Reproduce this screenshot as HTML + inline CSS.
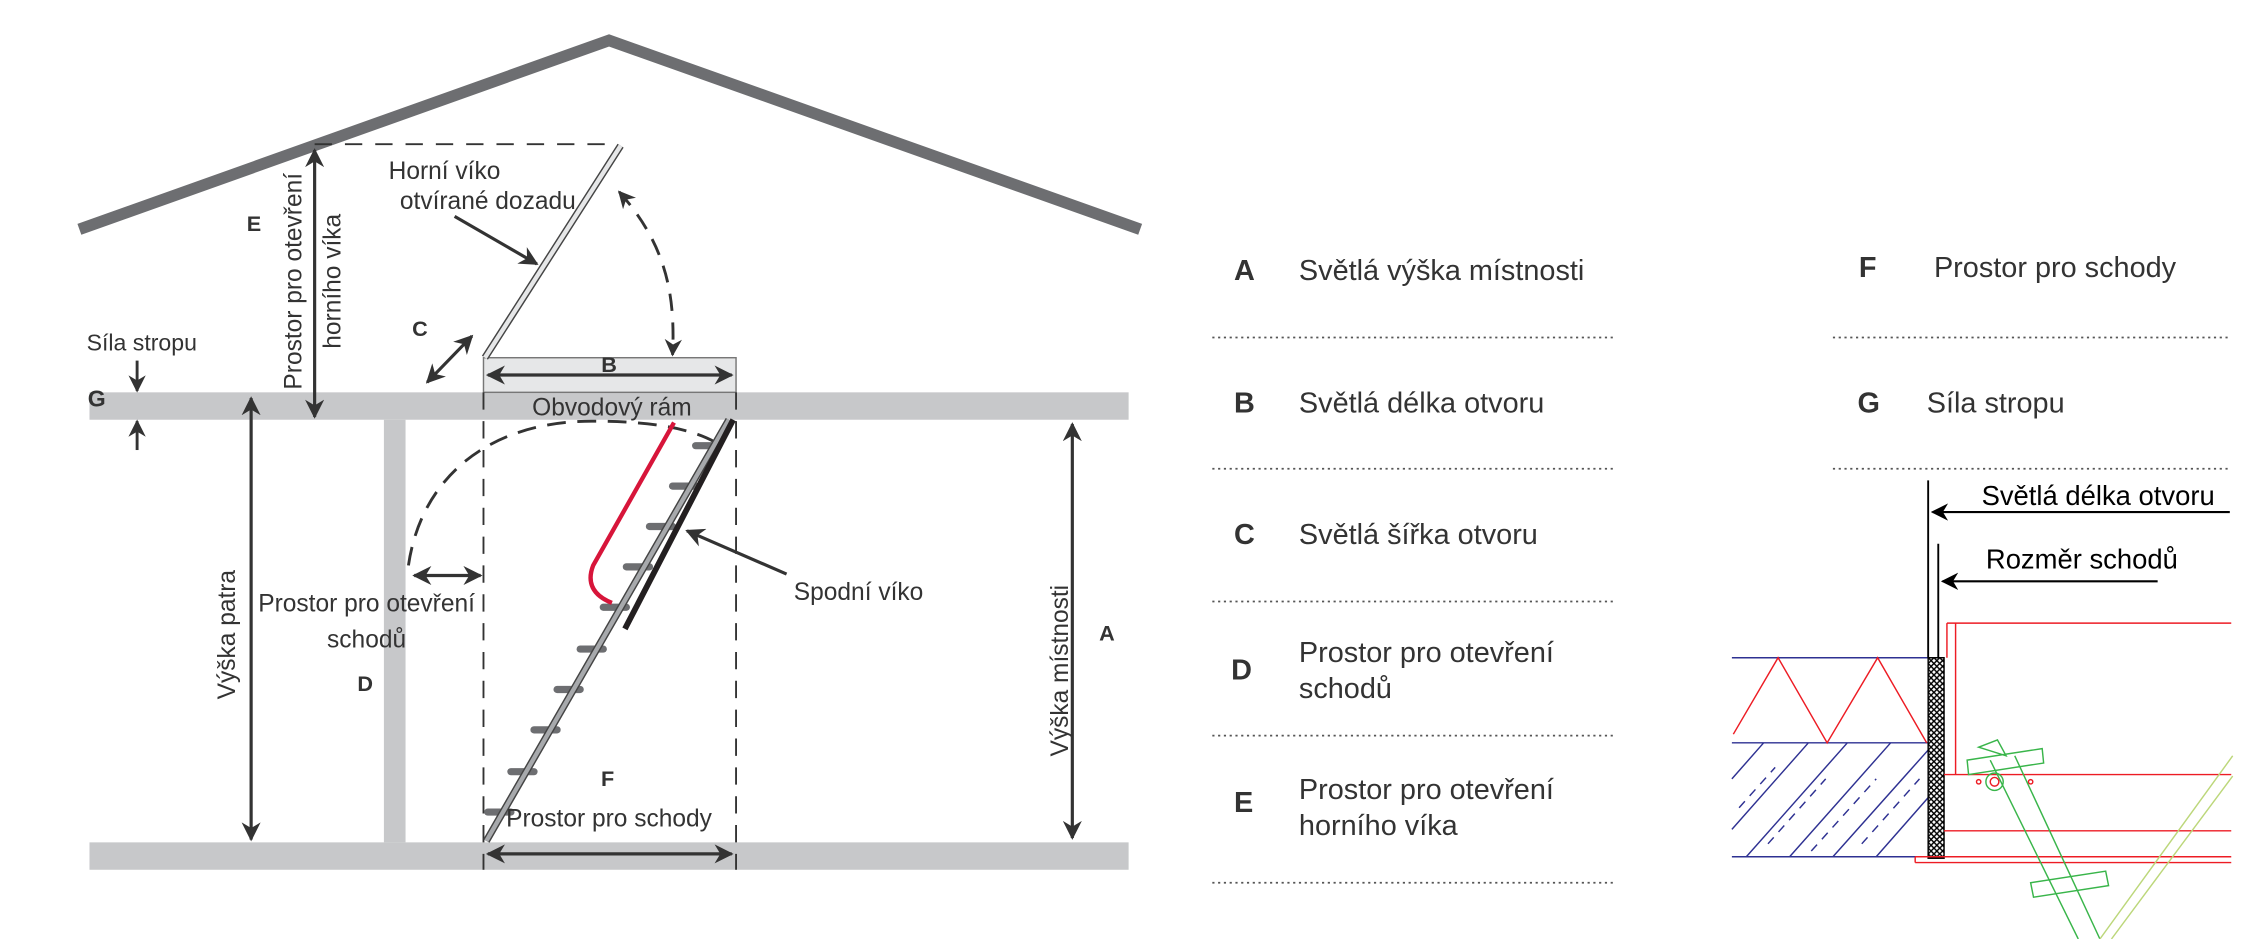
<!DOCTYPE html>
<html><head><meta charset="utf-8"><style>
html,body{margin:0;padding:0;background:#fff;}
svg{display:block;}
text{font-family:"Liberation Sans",sans-serif;fill:#333;}
.b{font-weight:bold;}
</style></head><body>
<svg width="2263" height="939" viewBox="0 0 1568 651" preserveAspectRatio="none" xmlns="http://www.w3.org/2000/svg">
<defs>
<marker id="ah" viewBox="0 0 10 10" refX="9" refY="5" markerWidth="6" markerHeight="6" orient="auto-start-reverse" markerUnits="strokeWidth">
<path d="M0,0 L10,5 L0,10 L3,5 z" fill="#333"/></marker>
<marker id="ak" viewBox="0 0 10 10" refX="9" refY="5" markerWidth="8" markerHeight="8" orient="auto-start-reverse" markerUnits="strokeWidth">
<path d="M0,0 L10,5 L0,10 L3,5 z" fill="#000"/></marker>
<pattern id="hx" width="4" height="4" patternUnits="userSpaceOnUse">
<rect width="4" height="4" fill="#fff"/><path d="M0,0 L4,4 M4,0 L0,4" stroke="#000" stroke-width="1"/></pattern>
</defs>
<polyline points="55,159 422,28 790,159" fill="none" stroke="#6d6e71" stroke-width="8"/>
<line x1="218" y1="100" x2="428" y2="100" stroke="#333" stroke-width="1.3" stroke-dasharray="12,9"/>
<rect x="62" y="272" width="720" height="19" fill="#c7c8ca"/>
<rect x="62" y="584" width="720" height="19" fill="#c7c8ca"/>
<rect x="266" y="291" width="15" height="293" fill="#c7c8ca"/>
<rect x="335" y="248" width="175" height="24" fill="#e6e7e8" stroke="#777" stroke-width="1"/>
<line x1="335" y1="272" x2="335" y2="603" stroke="#333" stroke-width="1.3" stroke-dasharray="12,8"/>
<line x1="510" y1="272" x2="510" y2="603" stroke="#333" stroke-width="1.3" stroke-dasharray="12,8"/>
<line x1="336" y1="248" x2="430" y2="101" stroke="#444" stroke-width="5"/>
<line x1="336" y1="248" x2="430" y2="101" stroke="#e6e7e8" stroke-width="3"/>
<line x1="338" y1="260" x2="507" y2="260" stroke="#333" stroke-width="2.2" marker-start="url(#ah)" marker-end="url(#ah)"/>
<line x1="338" y1="592" x2="507" y2="592" stroke="#333" stroke-width="2.2" marker-start="url(#ah)" marker-end="url(#ah)"/>
<line x1="296" y1="265" x2="327" y2="233" stroke="#333" stroke-width="2.2" marker-start="url(#ah)" marker-end="url(#ah)"/>
<path d="M429,133 C462,170 468,205 466,246" fill="none" stroke="#333" stroke-width="2" stroke-dasharray="12,8" marker-start="url(#ah)" marker-end="url(#ah)"/>
<line x1="315" y1="150" x2="372" y2="183" stroke="#333" stroke-width="2.2" marker-end="url(#ah)"/>
<line x1="218" y1="104" x2="218" y2="289" stroke="#333" stroke-width="2.2" marker-start="url(#ah)" marker-end="url(#ah)"/>
<line x1="95" y1="250" x2="95" y2="271" stroke="#333" stroke-width="2" marker-end="url(#ah)"/>
<line x1="95" y1="312" x2="95" y2="292" stroke="#333" stroke-width="2" marker-end="url(#ah)"/>
<line x1="174" y1="276" x2="174" y2="582" stroke="#333" stroke-width="2.2" marker-start="url(#ah)" marker-end="url(#ah)"/>
<line x1="743" y1="294" x2="743" y2="581" stroke="#333" stroke-width="2.2" marker-start="url(#ah)" marker-end="url(#ah)"/>
<line x1="287" y1="399" x2="333" y2="399" stroke="#333" stroke-width="2.2" marker-start="url(#ah)" marker-end="url(#ah)"/>
<path d="M283,392 C292,330 340,292 410,292 C452,292 480,297 498,308" fill="none" stroke="#333" stroke-width="2" stroke-dasharray="13,8"/>
<line x1="545" y1="398" x2="476" y2="368" stroke="#333" stroke-width="2.2" marker-end="url(#ah)"/>
<g stroke="#6d6e71" stroke-width="5" stroke-linecap="round">
<line x1="482" y1="309" x2="498" y2="309"/><line x1="466" y1="337" x2="482" y2="337"/>
<line x1="450" y1="365" x2="466" y2="365"/><line x1="434" y1="393" x2="450" y2="393"/>
<line x1="418" y1="421" x2="434" y2="421"/><line x1="402" y1="450" x2="418" y2="450"/>
<line x1="386" y1="478" x2="402" y2="478"/><line x1="370" y1="506" x2="386" y2="506"/>
<line x1="354" y1="535" x2="370" y2="535"/><line x1="338" y1="563" x2="354" y2="563"/>
</g>
<line x1="337" y1="583" x2="505" y2="291" stroke="#444" stroke-width="5"/>
<line x1="337" y1="583" x2="505" y2="291" stroke="#a7a9ac" stroke-width="3"/>
<line x1="508" y1="291" x2="433" y2="436" stroke="#231f20" stroke-width="4"/>
<path d="M467,293 L411,392 Q404,410 424,418" fill="none" stroke="#d7153a" stroke-width="3"/>
<text class="b" x="422" y="258" font-size="15" text-anchor="middle">B</text>
<text x="424" y="288" font-size="17" text-anchor="middle">Obvodový rám</text>
<text x="308" y="124" font-size="17" text-anchor="middle">Horní víko</text>
<text x="338" y="145" font-size="17" text-anchor="middle">otvírané dozadu</text>
<text class="b" x="291" y="233" font-size="15" text-anchor="middle">C</text>
<text class="b" x="176" y="160" font-size="15" text-anchor="middle">E</text>
<text x="0" y="0" font-size="17" text-anchor="middle" transform="translate(209,195) rotate(-90)">Prostor pro otevření</text>
<text x="0" y="0" font-size="17" text-anchor="middle" transform="translate(236,195) rotate(-90)">horního víka</text>
<text x="60" y="243" font-size="16">Síla stropu</text>
<text class="b" x="67" y="282" font-size="16" text-anchor="middle">G</text>
<text x="0" y="0" font-size="17" text-anchor="middle" transform="translate(163,440) rotate(-90)">Výška patra</text>
<text x="0" y="0" font-size="17" text-anchor="middle" transform="translate(740,465) rotate(-90)">Výška místnosti</text>
<text class="b" x="767" y="444" font-size="15" text-anchor="middle">A</text>
<text x="254" y="424" font-size="17" text-anchor="middle">Prostor pro otevření</text>
<text x="254" y="449" font-size="17" text-anchor="middle">schodů</text>
<text class="b" x="253" y="479" font-size="15" text-anchor="middle">D</text>
<text x="550" y="416" font-size="17">Spodní víko</text>
<text class="b" x="421" y="545" font-size="15" text-anchor="middle">F</text>
<text x="422" y="573" font-size="17" text-anchor="middle">Prostor pro schody</text>
<g font-size="20">
<text class="b" x="855" y="194">A</text><text x="900" y="194">Světlá výška místnosti</text>
<text class="b" x="855" y="286">B</text><text x="900" y="286">Světlá délka otvoru</text>
<text class="b" x="855" y="377">C</text><text x="900" y="377">Světlá šířka otvoru</text>
<text class="b" x="853" y="471">D</text><text x="900" y="459">Prostor pro otevření</text><text x="900" y="484">schodů</text>
<text class="b" x="855" y="563">E</text><text x="900" y="554">Prostor pro otevření</text><text x="900" y="579">horního víka</text>
<text class="b" x="1288" y="192">F</text><text x="1340" y="192">Prostor pro schody</text>
<text class="b" x="1287" y="286">G</text><text x="1335" y="286">Síla stropu</text>
</g>
<g stroke="#555" stroke-width="1.2" stroke-dasharray="1.5,2.5">
<line x1="840" y1="234" x2="1120" y2="234"/><line x1="840" y1="325" x2="1120" y2="325"/>
<line x1="840" y1="417" x2="1120" y2="417"/><line x1="840" y1="510" x2="1120" y2="510"/>
<line x1="840" y1="612" x2="1120" y2="612"/>
<line x1="1270" y1="234" x2="1545" y2="234"/><line x1="1270" y1="325" x2="1545" y2="325"/>
</g>
<g fill="none">
<line x1="1200" y1="456" x2="1336" y2="456" stroke="#2e3192" stroke-width="1"/>
<line x1="1200" y1="515" x2="1336" y2="515" stroke="#2e3192" stroke-width="1"/>
<line x1="1200" y1="594" x2="1336" y2="594" stroke="#2e3192" stroke-width="1"/>
<polyline points="1201,509 1232,456 1266,515 1301,456 1335,515" stroke="#ed1c24" stroke-width="1"/>
<g stroke="#2e3192" stroke-width="1">
<line x1="1200" y1="540" x2="1222" y2="515"/><line x1="1200" y1="575" x2="1253" y2="515"/>
<line x1="1210" y1="594" x2="1280" y2="515"/><line x1="1240" y1="594" x2="1310" y2="515"/>
<line x1="1270" y1="594" x2="1336" y2="520"/><line x1="1300" y1="594" x2="1336" y2="553"/>
<line x1="1205" y1="560" x2="1230" y2="532" stroke-dasharray="6,5"/><line x1="1225" y1="585" x2="1265" y2="540" stroke-dasharray="6,5"/>
<line x1="1255" y1="590" x2="1300" y2="540" stroke-dasharray="6,5"/><line x1="1290" y1="585" x2="1330" y2="540" stroke-dasharray="6,5"/>
</g>
<rect x="1336" y="456" width="11" height="139" fill="url(#hx)" stroke="#000" stroke-width="1"/>
<line x1="1336" y1="333" x2="1336" y2="456" stroke="#000" stroke-width="1.3"/>
<line x1="1343" y1="377" x2="1343" y2="456" stroke="#000" stroke-width="1.3"/>
<g stroke="#ed1c24" stroke-width="1">
<line x1="1349" y1="432" x2="1546" y2="432"/><line x1="1349" y1="432" x2="1349" y2="456"/>
<line x1="1355" y1="432" x2="1355" y2="537"/>
<line x1="1347" y1="537" x2="1546" y2="537"/><line x1="1347" y1="576" x2="1546" y2="576"/>
<line x1="1327" y1="594" x2="1546" y2="594"/><line x1="1327" y1="598" x2="1546" y2="598"/>
<line x1="1327" y1="594" x2="1327" y2="598"/>
<circle cx="1382" cy="542" r="3"/><circle cx="1371" cy="542" r="1.5"/><circle cx="1407" cy="542" r="1.5"/>
</g>
<g stroke="#39b54a" stroke-width="1">
<polygon points="1363,527 1415,519 1416,529 1364,537"/>
<polygon points="1407,612 1459,604 1461,614 1409,622"/>
<polygon points="1371,518 1384,513 1390,524"/>
<line x1="1379" y1="527" x2="1440" y2="651"/><line x1="1396" y1="524" x2="1455" y2="651"/>
<circle cx="1382" cy="542" r="6"/>
</g>
<g stroke="#bcd77a" stroke-width="1">
<line x1="1547" y1="524" x2="1455" y2="651"/><line x1="1547" y1="538" x2="1463" y2="651"/>
</g>
</g>
<line x1="1545" y1="355" x2="1339" y2="355" stroke="#000" stroke-width="1.5" marker-end="url(#ak)"/>
<line x1="1495" y1="403" x2="1346" y2="403" stroke="#000" stroke-width="1.5" marker-end="url(#ak)"/>
<text x="1373" y="350" font-size="19" style="fill:#000">Světlá délka otvoru</text>
<text x="1376" y="394" font-size="19" style="fill:#000">Rozměr schodů</text>
</svg>
</body></html>
